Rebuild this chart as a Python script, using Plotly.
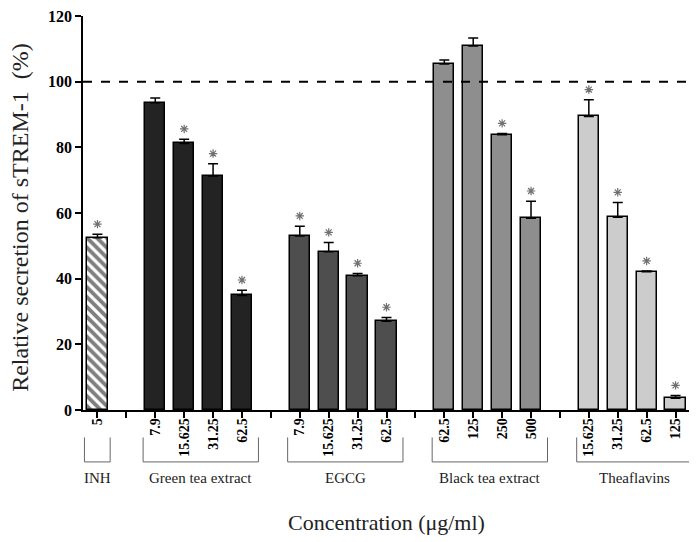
import plotly.graph_objects as go

# ---- data ----
groups = ["INH", "Green tea extract", "EGCG", "Black tea extract", "Theaflavins"]
concentrations = [
    ["5"],
    ["7.9", "15.625", "31.25", "62.5"],
    ["7.9", "15.625", "31.25", "62.5"],
    ["62.5", "125", "250", "500"],
    ["15.625", "31.25", "62.5", "125"],
]
values = [
    [52.5],
    [93.6, 81.2, 71.3, 34.9],
    [53.0, 48.2, 40.9, 27.0],
    [105.4, 110.9, 83.8, 58.4],
    [89.4, 58.7, 42.1, 3.6],
]
errors = [
    [1.0],
    [1.4, 1.3, 3.7, 1.6],
    [3.0, 2.8, 0.7, 1.2],
    [1.2, 2.4, 0.4, 5.2],
    [5.1, 4.5, 0.2, 0.8],
]
significant = [
    [True],
    [False, True, True, True],
    [True, True, True, True],
    [False, False, True, True],
    [True, True, True, True],
]
colors = ["#ffffff", "#232323", "#4e4e4e", "#8e8e8e", "#cccccc"]
reference_level = 100

SERIF = "Liberation Serif"

fig = go.Figure()

tickvals, ticktext = [], []
pos = 0
star_x, star_y = [], []
brackets = []
for gi, (g, concs, vals, errs, sig) in enumerate(zip(groups, concentrations, values, errors, significant)):
    if gi > 0:
        tickvals.append(pos)
        ticktext.append("")
        pos += 1
    xs = list(range(pos, pos + len(concs)))
    pos += len(concs)
    tickvals += xs
    ticktext += concs
    marker = dict(color=colors[gi], line=dict(color="black", width=1.5))
    if gi == 0:
        marker["pattern"] = dict(shape="\\", fgcolor="black", bgcolor="white", size=7, solidity=0.55)
    fig.add_trace(go.Bar(
        x=xs, y=vals, width=0.7, marker=marker,
        error_y=dict(type="data", array=errs, arrayminus=[0] * len(errs), symmetric=False,
                     color="black", thickness=1.5, width=5),
        showlegend=False, hoverinfo="skip",
    ))
    for x, v, e, s in zip(xs, vals, errs, sig):
        if s:
            star_x.append(x)
            star_y.append(v + e + 3.1)
    brackets.append((g, xs[0], xs[-1], gi == 0))

fig.add_trace(go.Scatter(
    x=star_x, y=star_y, mode="markers",
    marker=dict(symbol="asterisk-open", size=7, color="#707070", line=dict(color="#707070", width=1.2)),
    showlegend=False, hoverinfo="skip", cliponaxis=False,
))

shapes = []
annotations = []
# reference dashed line
shapes.append(dict(type="line", xref="paper", yref="y", x0=0, x1=1.02,
                   y0=reference_level, y1=reference_level,
                   line=dict(color="black", width=2, dash="dash")))
# group brackets
y_top, y_bot, y_lab = -0.0697, -0.1318, -0.172
for g, x0, x1, single in brackets:
    if single:
        a, b = x0 - 0.45, x1 + 0.44
    else:
        a, b = x0 - 0.42, x1 + 0.57
    for xx in (a, b):
        shapes.append(dict(type="line", xref="x", yref="paper", x0=xx, x1=xx, y0=y_top, y1=y_bot,
                           line=dict(color="#666666", width=1)))
    shapes.append(dict(type="line", xref="x", yref="paper", x0=a, x1=b, y0=y_bot, y1=y_bot,
                       line=dict(color="#666666", width=1)))
    annotations.append(dict(x=(a + b) / 2, y=y_lab, xref="x", yref="paper", text=g, showarrow=False,
                            font=dict(family=SERIF, size=15, color="#222222"),
                            xanchor="center", yanchor="middle"))

annotations.append(dict(x=0.5, y=-0.286, xref="paper", yref="paper", text="Concentration (\u03bcg/ml)",
                        showarrow=False, font=dict(family=SERIF, size=22, color="#222222"),
                        xanchor="center", yanchor="middle"))
annotations.append(dict(x=-0.104, y=0.49, xref="paper", yref="paper",
                        text="Relative secretion of sTREM-1  (%)", textangle=-90,
                        showarrow=False, font=dict(family=SERIF, size=24, color="#222222"),
                        xanchor="center", yanchor="middle"))

fig.update_layout(
    width=689, height=534,
    margin=dict(l=75, r=7, t=0, b=132),
    paper_bgcolor="white", plot_bgcolor="white",
    shapes=shapes, annotations=annotations,
    bargap=0,
    xaxis=dict(range=[-0.5, 20.5], tickmode="array", tickvals=tickvals, ticktext=ticktext,
               tickangle=-90, ticks="outside", ticklen=6, tickwidth=1.5, tickcolor="black",
               ticklabelstandoff=-5,
               showline=True, linecolor="black", linewidth=1.5, showgrid=False, zeroline=False,
               tickfont=dict(family=SERIF, size=14, color="black", weight="bold")),
    yaxis=dict(range=[0, 120], tickvals=[0, 20, 40, 60, 80, 100, 120], ticks="outside",
               ticklen=6, tickwidth=1.5, tickcolor="black", ticklabeloverflow="allow",
               showline=True, linecolor="black", linewidth=1.5, showgrid=False, zeroline=False,
               tickfont=dict(family=SERIF, size=16, color="black", weight="bold")),
)

fig.write_html("out.html")
